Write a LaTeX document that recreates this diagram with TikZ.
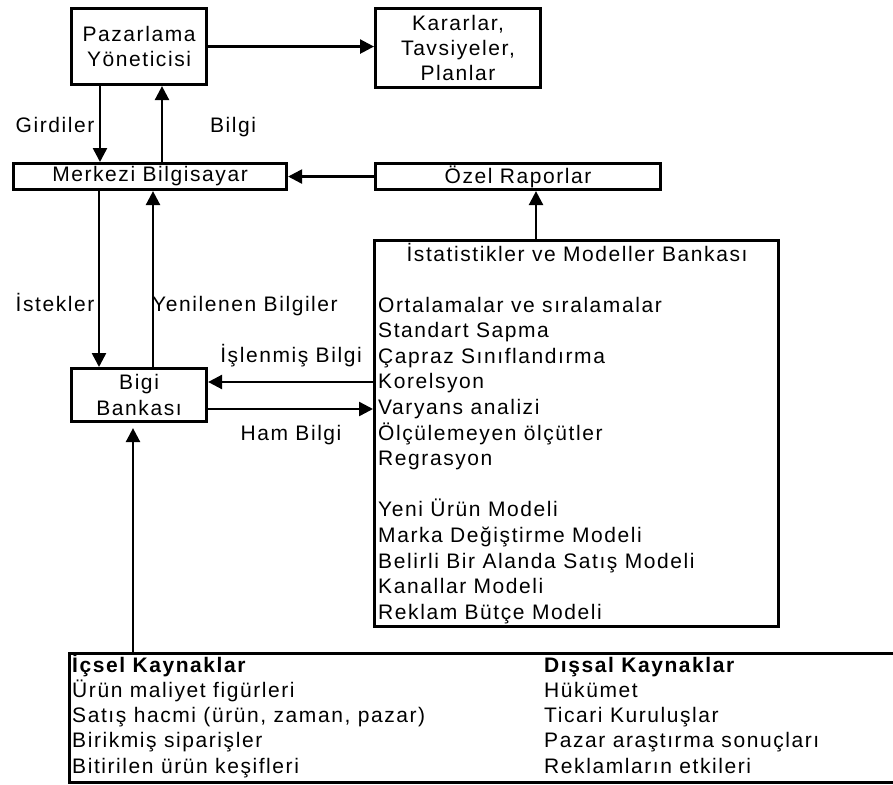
\documentclass[tikz,border=0pt]{standalone}
\usepackage{fontspec}
\setmainfont{Liberation Sans}[LetterSpace=7.5]
\usetikzlibrary{arrows.meta}
\begin{document}
\begin{tikzpicture}[x=1pt,y=-1pt,
  font=\fontsize{21}{25.4}\selectfont,
  box/.style={draw, line width=3.1pt, inner sep=0pt, align=center, anchor=north west},
  arr/.style={line width=2.5pt, -{Triangle[length=14pt,width=14pt]}},
  lbl/.style={inner sep=0pt, anchor=base},
  lst/.style={inner sep=0pt, anchor=base west}]
\useasboundingbox (0,0) rectangle (893,784);

% boxes
\node[box, minimum width=135pt, minimum height=76pt] (pz) at (70,7) {Pazarlama\\Yöneticisi};
\node[box, minimum width=165pt, minimum height=79pt] (kr) at (374,7) {Kararlar,\\Tavsiyeler,\\Planlar};
\node[box, minimum width=273pt, minimum height=26pt] (mb) at (12,162) {Merkezi Bilgisayar};
\node[box, minimum width=285pt, minimum height=26pt] (oz) at (374,162) {Özel Raporlar};
\node[box, minimum width=135pt, minimum height=53pt] (bb) at (70,367) {Bigi\\Bankası};
\node[box, minimum width=404pt, minimum height=386pt] (st) at (373,239) {};

\begin{scope}
\clip (0,0) rectangle (893,784);
\node[box, minimum width=900pt, minimum height=129pt] (ks) at (68,652) {};
\end{scope}

% statistics box text
\node[lbl] (sttitle) at (577,261) {İstatistikler ve Modeller Bankası};
\foreach \t [count=\i from 0] in {Ortalamalar ve sıralamalar, Standart Sapma, Çapraz Sınıflandırma, Korelsyon, Varyans analizi, Ölçülemeyen ölçütler, Regrasyon, {}, Yeni Ürün Modeli, Marka Değiştirme Modeli, Belirli Bir Alanda Satış Modeli, Kanallar Modeli, Reklam Bütçe Modeli}
  \node[lst] (s\i) at (378,{312+25.6*\i}) {\t};

% sources text
\node[lst] (ic) at (72,672) {\bfseries İçsel Kaynaklar};
\foreach \t [count=\i from 1] in {Ürün maliyet figürleri, {Satış hacmi (ürün, zaman, pazar)}, Birikmiş siparişler, Bitirilen ürün keşifleri}
  \node[lst] (ic\i) at (72,{672+25.3*\i}) {\t};
\node[lst] (dk) at (544,672) {\bfseries Dışsal Kaynaklar};
\foreach \t [count=\i from 1] in {Hükümet, Ticari Kuruluşlar, Pazar araştırma sonuçları, Reklamların etkileri}
  \node[lst] (dk\i) at (544,{672+25.3*\i}) {\t};

% labels
\node[lbl] (lg) at (55,132) {Girdiler};
\node[lbl] (lb) at (233,132) {Bilgi};
\node[lbl] (li) at (55,311) {İstekler};
\node[lbl] (ly) at (245,311) {Yenilenen Bilgiler};
\node[lbl] (lis) at (291,362) {İşlenmiş Bilgi};
\node[lbl] (lh) at (291,440) {Ham Bilgi};

% helper coordinates
\coordinate (xg) at (100,0);
\coordinate (xb) at (162,0);
\coordinate (xi) at (99,0);
\coordinate (xy) at (153,0);
\coordinate (xo) at (536,0);
\coordinate (xh) at (133,0);
\coordinate (yi) at (0,382);
\coordinate (yh) at (0,409);

% connectors
\draw[arr] (pz.east) -- (pz.east -| kr.west);
\draw[arr] (pz.south -| xg) -- (mb.north -| xg);
\draw[arr] (mb.north -| xb) -- (pz.south -| xb);
\draw[arr] (oz.west) -- (mb.east);
\draw[arr] (st.north -| xo) -- (oz.south -| xo);
\draw[arr] (mb.south -| xi) -- (bb.north -| xi);
\draw[arr] (bb.north -| xy) -- (mb.south -| xy);
\draw[arr] (st.west |- yi) -- (bb.east |- yi);
\draw[arr] (bb.east |- yh) -- (st.west |- yh);
\draw[arr, shorten >=5pt] (ks.north -| xh) -- (bb.south -| xh);
\end{tikzpicture}
\end{document}
